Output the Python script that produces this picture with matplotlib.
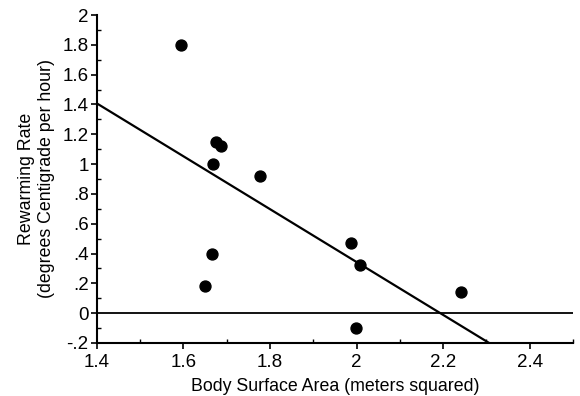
import numpy as np
import matplotlib
matplotlib.use("Agg")
import matplotlib.pyplot as plt
from matplotlib.ticker import FuncFormatter, MultipleLocator

plt.rcParams['font.family'] = ['Liberation Sans', 'DejaVu Sans']

# Data
body_surface_area = [1.595, 1.676, 1.686, 1.669, 1.776, 1.667, 1.649, 1.987, 2.008, 2.242, 1.999]
rewarming_rate = [1.80, 1.15, 1.12, 1.00, 0.92, 0.40, 0.18, 0.47, 0.32, 0.14, -0.10]

x_ticks = [1.4, 1.6, 1.8, 2.0, 2.2, 2.4]
y_ticks = [-0.2, 0, 0.2, 0.4, 0.6, 0.8, 1.0, 1.2, 1.4, 1.6, 1.8, 2.0]

fig = plt.figure(figsize=(5.8, 3.96), dpi=100)
ax = fig.add_axes([0.167, 0.134, 0.821, 0.828])

ax.scatter(body_surface_area, rewarming_rate, s=62, color='black', zorder=3)

slope, intercept = np.polyfit(body_surface_area, rewarming_rate, 1)
xl = np.array([1.4, 2.5])
ax.plot(xl, intercept + slope * xl, color='black', lw=1.6, clip_on=True)

ax.axhline(0, color='black', lw=1.3)

ax.set_xlim(1.4, 2.5)
ax.set_ylim(-0.2, 2.0)

ax.spines['top'].set_visible(False)
ax.spines['right'].set_visible(False)
ax.spines['left'].set_linewidth(1.5)
ax.spines['bottom'].set_linewidth(1.5)

ax.set_xticks(x_ticks)
ax.set_yticks(y_ticks)
ax.xaxis.set_minor_locator(MultipleLocator(0.1))
ax.yaxis.set_minor_locator(MultipleLocator(0.1))

def fmt_x(v, pos):
    s = f"{v:.1f}"
    if s.endswith(".0"):
        s = s[:-2]
    return s

def fmt_y(v, pos):
    if abs(v) < 1e-9:
        return "0"
    if abs(v - round(v)) < 1e-9:
        return str(int(round(v)))
    s = f"{v:.1f}"
    if s.startswith("0."):
        s = s[1:]
    elif s.startswith("-0."):
        s = "-" + s[2:]
    return s

ax.xaxis.set_major_formatter(FuncFormatter(fmt_x))
ax.yaxis.set_major_formatter(FuncFormatter(fmt_y))

ax.tick_params(axis='both', which='major', direction='out', length=4, width=1.2,
               labelsize=13.5, pad=2)
ax.tick_params(axis='x', which='major', pad=4)
ax.tick_params(axis='both', which='minor', direction='in', length=3, width=1.0)

ax.set_xlabel("Body Surface Area (meters squared)", fontsize=12.8, labelpad=5)
ax.set_ylabel("Rewarming Rate\n(degrees Centigrade per hour)", fontsize=12.8, labelpad=5,
              linespacing=1.3)

fig.savefig("out.png", dpi=100)
